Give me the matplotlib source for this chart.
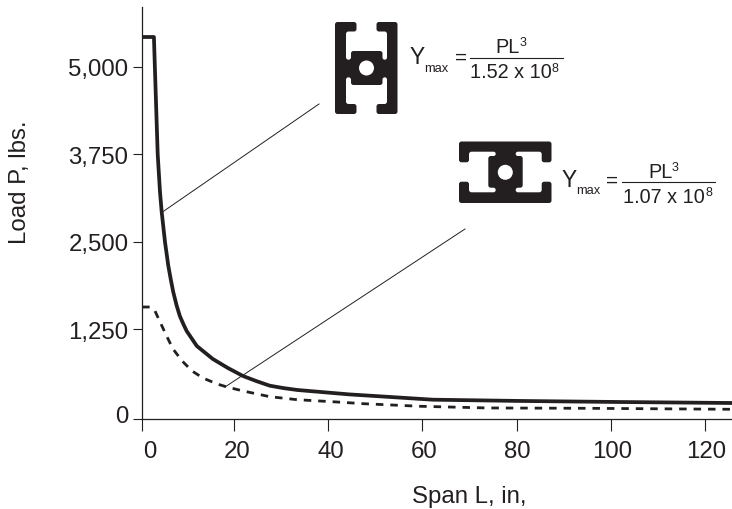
import matplotlib
matplotlib.use("Agg")
import matplotlib.pyplot as plt
from matplotlib.patches import PathPatch, Circle
from matplotlib.path import Path
from matplotlib.transforms import ScaledTranslation
import numpy as np

plt.rcParams['font.family'] = ['Liberation Sans', 'DejaVu Sans']

# --- data ---
solid_x = [0.5, 3.0, 3.2, 3.8, 4.29, 4.65, 5.35, 6.05, 6.56, 7.1, 7.83, 8.5, 9.24, 9.95,
           12.1, 13.8, 15.5, 18.7, 21.9, 24.7, 27.6, 30.4, 33.4, 44.6, 48.9, 62.2, 80.7, 101.9, 125.3]
solid_y = [5425, 5425, 5000, 3750, 3209, 2923, 2495, 2156, 1966, 1780, 1584, 1437, 1322, 1222,
           1008, 915, 822, 693, 579, 507, 440, 407, 379, 315, 297, 240, 222, 207, 193]
dashed_x = [0.5, 2.2, 3.2, 4.3, 5.8, 7.05, 9.0, 11.1, 13.4, 16.4, 18.5, 21.9,
            27.6, 33.4, 41.9, 47.4, 59.4, 73.7, 94.9, 125.3]
dashed_y = [1565, 1565, 1512, 1351, 1136, 965, 793, 650, 550, 465, 422, 365,
            283, 240, 207, 183, 146, 122, 117, 103]

# the printed axis is not quite linear: "0" sits on the spines, slightly off true zero
x_ticks = [0.47, 20, 40, 60, 80, 100, 120]
x_labels = ['0', '20', '40', '60', '80', '100', '120']
y_ticks = [-36, 1250, 2500, 3750, 5000]
y_labels = ['0', '1,250', '2,500', '3,750', '5,000']

INK = '#231f20'
W, H = 732, 510

fig = plt.figure(figsize=(W / 100, H / 100), dpi=100)
ax = fig.add_axes([142 / W, 1 - 420 / H, (W - 142) / W, (420 - 8) / H])
ax.set_xlim(0.47, 125.7)
ax.set_ylim(-36, 5854)

ax.plot(solid_x, solid_y, color=INK, lw=2.7, solid_joinstyle='round')
ax.plot(dashed_x, dashed_y, color=INK, lw=2.0, linestyle=(0, (2.7, 2.5)), dash_capstyle='butt')

for s in ('top', 'right'):
    ax.spines[s].set_visible(False)
for s in ('left', 'bottom'):
    ax.spines[s].set_linewidth(0.9)
    ax.spines[s].set_color(INK)

ax.set_xticks(x_ticks, x_labels)
ax.set_yticks(y_ticks, y_labels)
ax.tick_params(axis='x', length=8.6, width=0.8, color=INK, labelcolor=INK, labelsize=17.3, pad=6.7)
ax.tick_params(axis='y', length=6.2, width=0.8, color=INK, labelcolor=INK, labelsize=17.3, pad=3.6)

# printed labels are nudged off their ticks
for lab, dx in zip(ax.get_xticklabels(), [8, 3, 3, 2, 1, 1, 1]):
    lab.set_transform(lab.get_transform() + ScaledTranslation(dx / 100, 0, fig.dpi_scale_trans))
ylab0 = ax.get_yticklabels()[0]
ylab0.set_transform(ylab0.get_transform() + ScaledTranslation(0, 5 / 100, fig.dpi_scale_trans))

# overlay in picture pixels for the axis titles, profiles and formulas
ov = fig.add_axes([0, 0, 1, 1])
ov.set_xlim(0, W)
ov.set_ylim(H, 0)
ov.axis('off')

ov.text(20, 182, 'Load P, lbs.', rotation=90, ha='center', va='center', fontsize=17.3, color=INK)
ov.text(469, 497, 'Span L, in,', ha='center', va='center', fontsize=17.3, color=INK)

# leader lines
ov.plot([161, 319], [214, 105], color=INK, lw=0.7)
ov.plot([225, 465], [388, 230], color=INK, lw=0.7)


def profile(points, hole, r, corner=2.5):
    # closed outline with rounded corners
    pts = np.array(points, dtype=float)
    n = len(pts)
    verts, codes = [], []
    for i in range(n):
        p, a, b = pts[i], pts[i - 1], pts[(i + 1) % n]
        ua, ub = a - p, b - p
        la, lb = np.hypot(*ua), np.hypot(*ub)
        c = min(corner, la / 2, lb / 2)
        verts += [p + ua / la * c, p, p + ub / lb * c]
        codes += [Path.MOVETO if i == 0 else Path.LINETO, Path.CURVE3, Path.CURVE3]
    verts.append(verts[0])
    codes.append(Path.CLOSEPOLY)
    ov.add_patch(PathPatch(Path(verts, codes), facecolor=INK, edgecolor='none'))
    ov.add_patch(Circle(hole, r, facecolor='white', edgecolor='none'))


# upright profile
profile([(335, 23), (356.5, 23), (356.5, 32.5), (346, 32.5), (346, 60.7), (351, 60.7), (351, 52), (382.5, 52),
         (382.5, 60.7), (387, 60.7), (387, 32.5), (376.5, 32.5), (376.5, 23), (397.5, 23), (397.5, 115), (376.5, 115),
         (376.5, 105), (387, 105), (387, 78.3), (382.5, 78.3), (382.5, 86), (351, 86), (351, 78.3), (346, 78.3),
         (346, 105), (356.5, 105), (356.5, 115), (335, 115)], (366.5, 69), 7.5)

# flat profile
profile([(459, 142.5), (551.5, 142.5), (551.5, 163.3), (541.7, 163.3), (541.7, 152.7), (515.7, 152.7), (515.7, 157),
         (522.7, 157), (522.7, 188.7), (515.7, 188.7), (515.7, 193.3), (541.7, 193.3), (541.7, 182.7), (551.5, 182.7),
         (551.5, 204), (459, 204), (459, 182.7), (469, 182.7), (469, 193.3), (495.7, 193.3), (495.7, 188.7),
         (488.3, 188.7), (488.3, 157), (495.7, 157), (495.7, 152.7), (469, 152.7), (469, 163.3), (459, 163.3)],
        (505.3, 173.3), 7.5)


def formula(y_x, y_base, eq_x, top, top_x, top_base, sup_x, sup_base, den, den_x, den_base, sup2_x, sup2_base, rule):
    ov.text(y_x, y_base, 'Y', fontsize=16.5, color=INK, ha='left', va='baseline')
    ov.text(y_x + 14, y_base + 7.5, 'max', fontsize=9.3, color=INK, ha='left', va='baseline')
    ov.text(eq_x, y_base, '=', fontsize=14.8, color=INK, ha='center', va='baseline')
    ov.text(top_x, top_base, top, fontsize=14.3, color=INK, ha='left', va='baseline')
    ov.text(sup_x, sup_base, '3', fontsize=9, color=INK, ha='left', va='baseline')
    ov.text(den_x, den_base, den, fontsize=14.3, color=INK, ha='left', va='baseline')
    ov.text(sup2_x, sup2_base, '8', fontsize=9, color=INK, ha='left', va='baseline')
    ov.plot(rule[:2], [rule[2], rule[2]], color=INK, lw=0.8)


formula(410, 64, 461, 'PL', 495.7, 53.3, 520, 46, '1.52 x 10', 470, 78.3, 551.7, 71.7, (470, 562.7, 59.3))
formula(561.7, 186.7, 612, 'PL', 648, 177.7, 672, 170.7, '1.07 x 10', 623.3, 203.3, 705, 195.7, (622.3, 715, 183.3))

fig.savefig('out.png', dpi=100)
